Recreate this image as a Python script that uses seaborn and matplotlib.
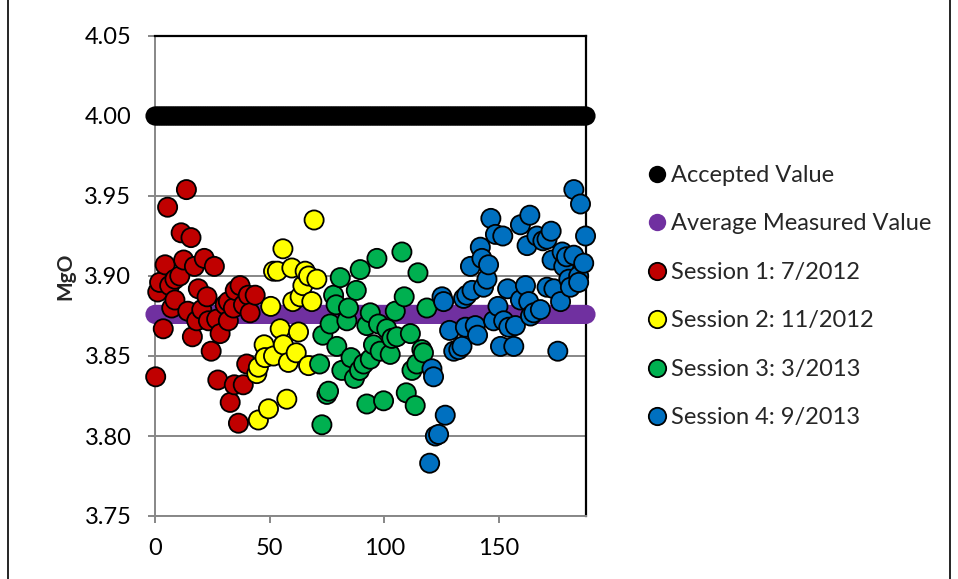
import numpy as np
import pandas as pd
import matplotlib
matplotlib.use("Agg")
import matplotlib.pyplot as plt
import seaborn as sns
from matplotlib.lines import Line2D

# ---------------- data ----------------
accepted_value = 4.00
average_value = 3.876
sample_index = np.arange(0, 189)

s1_x = [0.3, 1.2, 2.0, 3.6, 4.4, 5.5, 6.4, 7.3, 8.7, 8.7, 10.8, 11.4, 12.5, 13.7, 14.3, 15.7,
        16.3, 17.2, 18.2, 18.9, 20.4, 21.5, 22.7, 23.3, 24.5, 25.9, 26.9, 27.4, 28.4, 30.6,
        32.0, 32.0, 32.8, 34.2, 34.6, 35.0, 36.4, 37.1, 38.5, 38.6, 40.0, 40.7, 41.5, 43.7]
s1_y = [3.837, 3.890, 3.896, 3.867, 3.907, 3.943, 3.894, 3.880, 3.898, 3.885, 3.900, 3.927,
        3.910, 3.954, 3.878, 3.924, 3.862, 3.906, 3.872, 3.892, 3.879, 3.911, 3.887, 3.872,
        3.853, 3.906, 3.873, 3.835, 3.864, 3.882, 3.884, 3.872, 3.821, 3.880, 3.832, 3.891,
        3.808, 3.894, 3.832, 3.882, 3.845, 3.888, 3.877, 3.888]

s2_x = [44.4, 45.1, 45.1, 47.6, 48.0, 49.5, 50.5, 51.7, 51.7, 53.4, 54.6, 55.8, 56.0, 57.5,
        58.2, 59.7, 60.1, 61.6, 62.6, 63.3, 64.5, 65.5, 67.0, 67.0, 68.4, 69.4, 70.6]
s2_y = [3.839, 3.843, 3.810, 3.857, 3.849, 3.817, 3.881, 3.903, 3.850, 3.903, 3.867, 3.917,
        3.857, 3.823, 3.846, 3.905, 3.884, 3.852, 3.865, 3.887, 3.894, 3.903, 3.900, 3.844,
        3.884, 3.935, 3.898]

s3_x = [71.8, 72.8, 73.2, 75.0, 75.7, 76.4, 77.9, 79.0, 79.3, 80.8, 81.5, 83.7, 84.4, 85.5,
        87.0, 87.8, 89.2, 89.5, 91.0, 92.4, 92.4, 93.9, 93.9, 95.3, 96.8, 97.5, 98.2, 99.7,
        101.1, 102.6, 103.3, 104.8, 105.5, 107.7, 108.7, 109.6, 111.4, 112.1, 113.5, 114.2,
        114.7, 116.4, 117.1, 118.6]
s3_y = [3.845, 3.807, 3.863, 3.826, 3.828, 3.870, 3.888, 3.882, 3.856, 3.899, 3.841, 3.872,
        3.880, 3.849, 3.836, 3.891, 3.841, 3.904, 3.845, 3.869, 3.820, 3.877, 3.848, 3.857,
        3.911, 3.870, 3.853, 3.822, 3.867, 3.851, 3.861, 3.878, 3.862, 3.915, 3.887, 3.827,
        3.864, 3.841, 3.819, 3.845, 3.902, 3.854, 3.852, 3.880]

s4_x = [119.8, 120.8, 121.5, 122.3, 123.7, 125.2, 125.9, 126.6, 128.5, 130.3, 132.5, 133.9,
        134.6, 135.4, 136.0, 137.6, 138.3, 139.7, 140.7, 141.9, 142.6, 143.3, 144.8, 145.5,
        146.5, 147.7, 148.5, 149.6, 150.7, 151.7, 152.1, 153.8, 154.3, 156.5, 157.2, 159.4,
        159.4, 161.6, 162.3, 163.0, 163.5, 163.8, 165.2, 166.6, 168.1, 169.2, 171.0, 171.0,
        172.8, 173.2, 174.0, 175.7, 176.9, 177.6, 178.3, 179.5, 180.5, 181.2, 182.7, 182.7,
        184.8, 184.8, 185.6, 187.0, 187.8]
s4_y = [3.783, 3.842, 3.837, 3.800, 3.801, 3.887, 3.884, 3.813, 3.866, 3.853, 3.854, 3.856,
        3.886, 3.868, 3.888, 3.906, 3.891, 3.869, 3.863, 3.918, 3.911, 3.893, 3.898, 3.907,
        3.936, 3.872, 3.926, 3.881, 3.856, 3.925, 3.872, 3.892, 3.868, 3.856, 3.869, 3.885,
        3.932, 3.894, 3.919, 3.884, 3.938, 3.875, 3.877, 3.925, 3.879, 3.922, 3.923, 3.893,
        3.928, 3.910, 3.892, 3.853, 3.884, 3.915, 3.906, 3.912, 3.898, 3.893, 3.913, 3.954,
        3.900, 3.896, 3.945, 3.908, 3.925]

labels = ["Accepted Value", "Average Measured Value", "Session 1: 7/2012",
          "Session 2: 11/2012", "Session 3: 3/2013", "Session 4: 9/2013"]
colors = ["#000000", "#7030A0", "#C00000", "#FFFF00", "#00B050", "#0070C0"]
y_ticks = [3.75, 3.80, 3.85, 3.90, 3.95, 4.00, 4.05]
x_ticks = [0, 50, 100, 150]

# ---------------- build frames ----------------
ref = pd.concat([
    pd.DataFrame({"x": sample_index, "MgO": accepted_value, "series": labels[0]}),
    pd.DataFrame({"x": sample_index, "MgO": average_value, "series": labels[1]}),
])
sess = pd.concat([
    pd.DataFrame({"x": s1_x, "MgO": s1_y, "series": labels[2]}),
    pd.DataFrame({"x": s2_x, "MgO": s2_y, "series": labels[3]}),
    pd.DataFrame({"x": s3_x, "MgO": s3_y, "series": labels[4]}),
    pd.DataFrame({"x": s4_x, "MgO": s4_y, "series": labels[5]}),
])
palette = dict(zip(labels, colors))

sns.set_theme(style="white")
plt.rcParams["font.family"] = ["Lato", "DejaVu Sans"]

fig = plt.figure(figsize=(9.58, 5.79), dpi=100)
ax = fig.add_axes([155 / 958, 1 - 516 / 579, (586 - 155) / 958, (516 - 36) / 579])

msize = 190
sns.scatterplot(data=ref, x="x", y="MgO", hue="series", palette=palette, s=msize,
                linewidth=0, edgecolor="none", legend=False, ax=ax, clip_on=False, zorder=3)
sns.scatterplot(data=sess, x="x", y="MgO", hue="series", palette=palette, s=msize,
                linewidth=1.3, edgecolor="black", legend=False, ax=ax, clip_on=False, zorder=4)

ax.set_xlim(0, 188)
ax.set_ylim(3.75, 4.05)
ax.set_yticks(y_ticks)
ax.set_yticklabels([f"{v:.2f}" for v in y_ticks])
ax.set_xticks(x_ticks)
ax.set_xlabel("")
ax.set_ylabel("MgO", fontsize=15, fontweight="bold")
ax.yaxis.set_label_coords((75 - 155) / 431, 0.5)

grid_c = "#878787"
ax.yaxis.grid(True, color=grid_c, linewidth=1.4, zorder=0)
ax.xaxis.grid(False)
ax.set_axisbelow(True)
for side in ["left", "bottom"]:
    ax.spines[side].set_color(grid_c)
    ax.spines[side].set_linewidth(1.4)
for side in ["top", "right"]:
    ax.spines[side].set_color("black")
    ax.spines[side].set_linewidth(1.6)
ax.tick_params(axis="both", which="both", direction="out", length=5, width=1.4,
               color=grid_c, labelsize=17, labelcolor="black", left=True, bottom=True)
ax.tick_params(axis="x", pad=11)
ax.tick_params(axis="y", pad=12)

handles = []
for lab, c in zip(labels, colors):
    ec = "none" if lab in labels[:2] else "black"
    handles.append(Line2D([0], [0], marker="o", linestyle="none", markersize=12.5,
                          markerfacecolor=c, markeredgecolor=ec, markeredgewidth=1.3))
fig.legend(handles, labels, loc="upper left", bbox_to_anchor=(633 / 958, 1 - 153 / 579),
           frameon=False, fontsize=17, labelspacing=1.165, handletextpad=0.1,
           handlelength=1.0, borderpad=0)

# outer chart border (left/right edges visible)
fig.add_artist(Line2D([8 / 958, 8 / 958], [0, 1], color="#000000", linewidth=1.2))
fig.add_artist(Line2D([950 / 958, 950 / 958], [0, 1], color="#000000", linewidth=1.2))

fig.savefig("out.png", dpi=100)
